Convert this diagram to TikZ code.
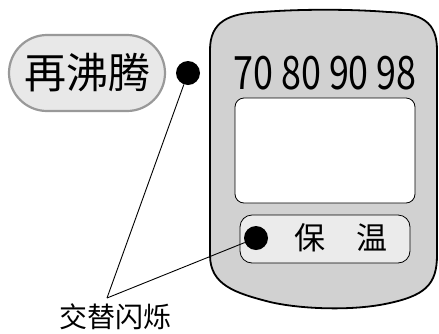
\documentclass[tikz,border=0pt]{standalone}
\usepackage{fontspec}
\setmainfont{Noto Sans CJK SC}
\begin{document}
\begin{tikzpicture}[x=1pt,y=-1pt,
    dot/.style={circle, fill=black, inner sep=0pt, minimum size=24pt},
    lead/.style={draw=black, line width=0.9pt}]
    \useasboundingbox (0,0) rectangle (439,333);
    % Defining the outer body of the panel
    \draw[fill=black!18, line width=1.8pt] (210,50) -- (210,255)
        .. controls (210,285) and (235,293) .. (270,302)
        .. controls (300,309) and (350,311) .. (385,304)
        .. controls (425,296) and (437,285) .. (437,255) -- (437,50)
        .. controls (437,22) and (422,13) .. (388,12)
        .. controls (350,9) and (300,9) .. (262,12)
        .. controls (228,13) and (210,22) .. cycle;
    % Display window and the keep-warm bar
    \draw[fill=white, line width=0.8pt, rounded corners=9pt] (235,98) rectangle (415,203);
    \draw[fill=black!8, line width=0.8pt, rounded corners=12pt] (240,215) rectangle (410,263);
    \node[font=\fontsize{46}{46}\selectfont, xscale=0.78] (temps) at (325,73) {70 80 90 98};
    \node[dot] (warmdot) at (256,238) {};
    \node[font=\fontsize{31}{31}\selectfont] (bao) at (310,238) {保};
    \node[font=\fontsize{31}{31}\selectfont] (wen) at (372,238) {温};
    % Reboil label on the left
    \node[draw=black!40, fill=black!9, line width=2.2pt, rounded corners=38pt,
        minimum width=156pt, minimum height=76pt,
        font=\fontsize{42}{42}\selectfont] (reboil) at (87,73) {再沸腾};
    \node[dot] (boildot) at (188,73) {};
    % Caption and its leader lines
    \node[font=\fontsize{28}{28}\selectfont, inner sep=1pt] (blink) at (115,317) {交替闪烁};
    \coordinate (apex) at (107,298);
    \draw[lead] (apex) -- (boildot);
    \draw[lead] (apex) -- (warmdot);
\end{tikzpicture}
\end{document}
